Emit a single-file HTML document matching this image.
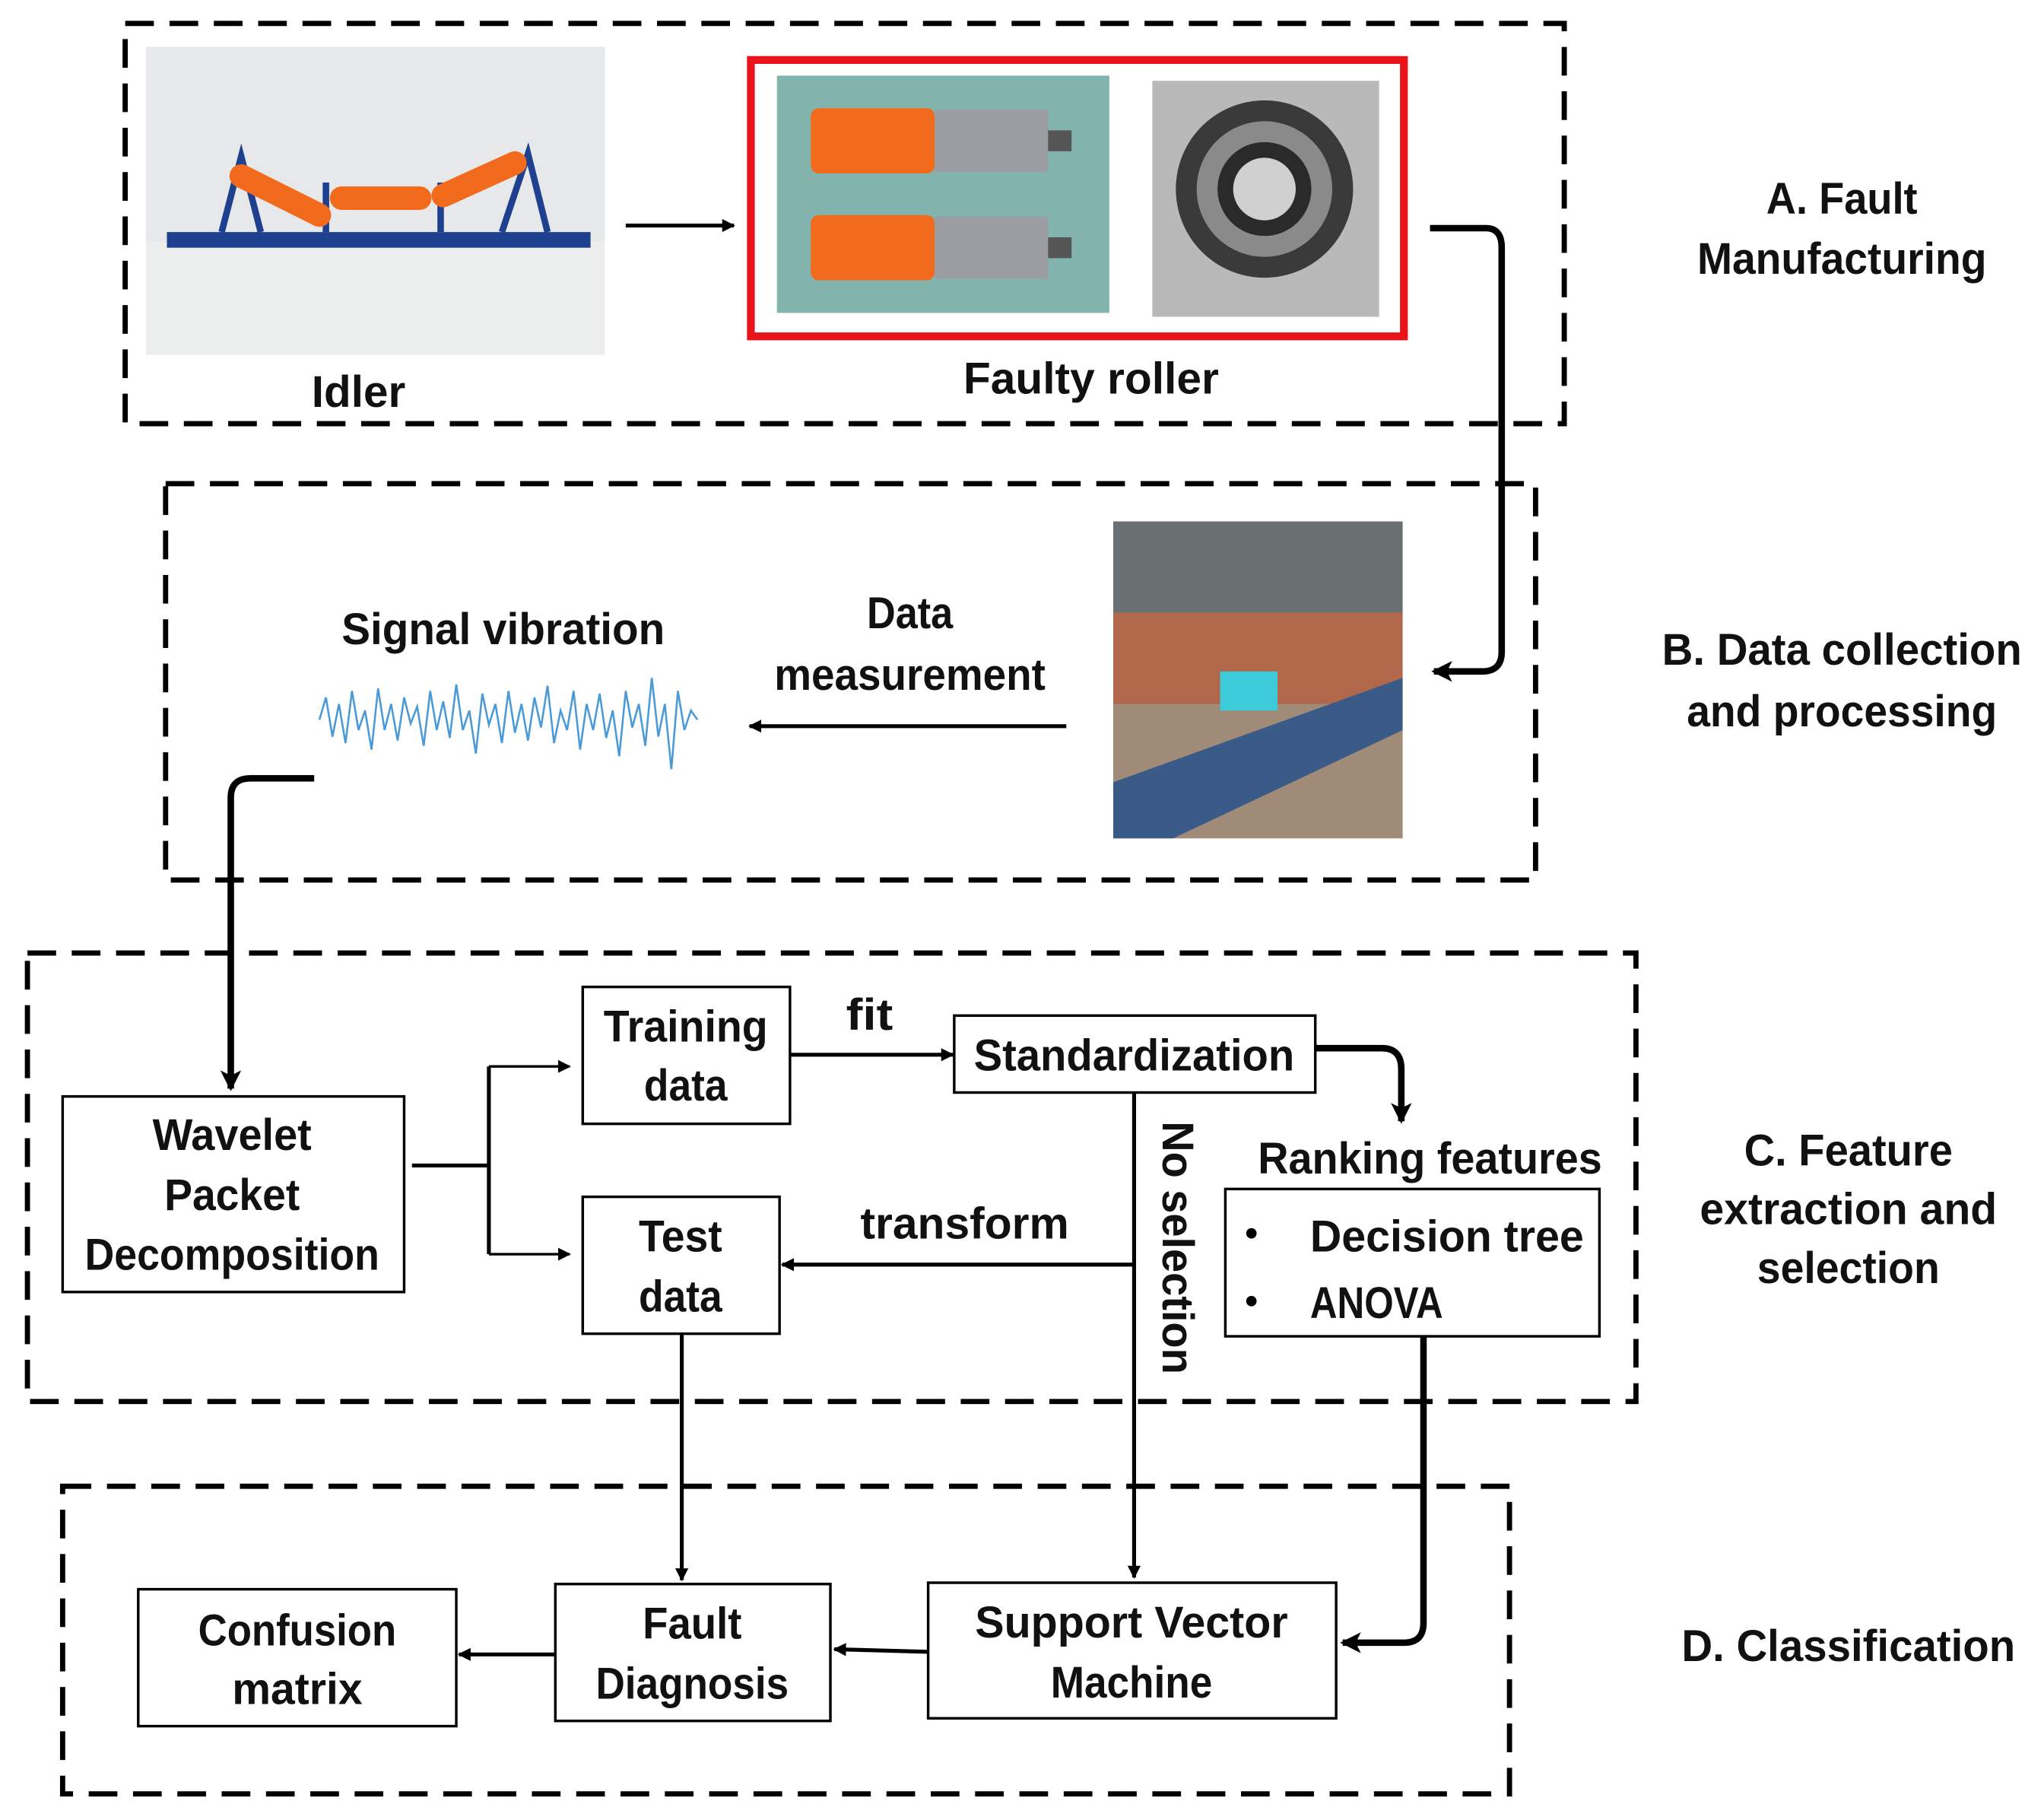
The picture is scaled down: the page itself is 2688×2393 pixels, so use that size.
<!DOCTYPE html>
<html><head><meta charset="utf-8"><style>
html,body{margin:0;padding:0;background:#fff}
svg{display:block}
text{font-family:"Liberation Sans",sans-serif;font-weight:bold;font-size:34px;fill:#111;text-anchor:middle}
</style></head><body>
<svg width="2688" height="2393" viewBox="0 0 1568 1396" xmlns="http://www.w3.org/2000/svg">
<defs>
<marker id="ar" markerWidth="10" markerHeight="10" refX="9" refY="5" orient="auto" markerUnits="userSpaceOnUse"><path d="M0,0 L10,5 L0,10 Z" fill="#000"/></marker>
<marker id="ar2" markerWidth="16" markerHeight="16" refX="14" refY="8" orient="auto" markerUnits="userSpaceOnUse"><path d="M0,0 L16,8 L0,16 L4,8 Z" fill="#000"/></marker>
</defs>
<g fill="none" stroke="#000" stroke-width="4" stroke-dasharray="22 12">
<rect x="96" y="18" width="1104" height="307"/>
<rect x="127" y="371" width="1051" height="304"/>
<rect x="21" y="731" width="1234" height="344"/>
<rect x="48" y="1140" width="1110" height="236"/>
</g>
<!-- idler photo -->
<rect x="112" y="36" width="352" height="236" fill="#e6e8e9"/>
<rect x="112" y="185" width="352" height="87" fill="#eceeee"/>
<rect x="128" y="178" width="325" height="12" fill="#1f3f8f"/>
<g stroke="#1f3f8f" stroke-width="5" fill="none">
<path d="M170,178 L185,120 L200,178"/><path d="M250,178 L250,140"/><path d="M338,178 L338,140"/><path d="M385,178 L405,118 L420,178"/>
</g>
<g stroke="#f26a1b" stroke-width="18" stroke-linecap="round">
<line x1="185" y1="135" x2="245" y2="165"/><line x1="262" y1="152" x2="322" y2="152"/><line x1="340" y1="150" x2="395" y2="125"/>
</g>
<line x1="480" y1="173" x2="563" y2="173" stroke="#000" stroke-width="3" marker-end="url(#ar)"/>
<rect x="576" y="46" width="501" height="212" fill="none" stroke="#e8141a" stroke-width="6"/>
<rect x="596" y="58" width="255" height="182" fill="#82b4ad"/>
<rect x="622" y="83" width="95" height="50" rx="6" fill="#f26a1b"/><rect x="717" y="84" width="87" height="48" fill="#9a9ea2"/><rect x="804" y="100" width="18" height="16" fill="#555"/>
<rect x="622" y="165" width="95" height="50" rx="6" fill="#f26a1b"/><rect x="717" y="166" width="87" height="48" fill="#9a9ea2"/><rect x="804" y="182" width="18" height="16" fill="#555"/>
<rect x="884" y="62" width="174" height="181" fill="#b9b9b9"/>
<circle cx="970" cy="145" r="68" fill="#3a3a3a"/><circle cx="970" cy="145" r="52" fill="#8a8a8a"/><circle cx="970" cy="145" r="36" fill="#2a2a2a"/><circle cx="970" cy="145" r="24" fill="#d0d0d0"/>
<text x="275" y="312" textLength="72" lengthAdjust="spacingAndGlyphs">Idler</text>
<text x="837" y="302" textLength="196" lengthAdjust="spacingAndGlyphs">Faulty roller</text>
<path d="M1097,175 H1140 Q1152,175 1152,190 V500 Q1152,515 1137,515 H1100" fill="none" stroke="#000" stroke-width="5" marker-end="url(#ar2)"/>
<text x="1413" y="164" textLength="116" lengthAdjust="spacingAndGlyphs">A. Fault</text>
<text x="1413" y="210" textLength="222" lengthAdjust="spacingAndGlyphs">Manufacturing</text>
<!-- sensor photo -->
<rect x="854" y="400" width="222" height="243" fill="#8a7a70"/>
<rect x="854" y="400" width="222" height="70" fill="#6a6f72"/>
<rect x="854" y="470" width="222" height="70" fill="#b0674a"/>
<rect x="854" y="540" width="222" height="103" fill="#a08a78"/>
<path d="M854,600 L1076,520 L1076,560 L900,643 L854,643 Z" fill="#3a5a88"/>
<rect x="936" y="515" width="44" height="30" fill="#3ccbd8"/>
<text x="698" y="482" textLength="66" lengthAdjust="spacingAndGlyphs">Data</text>
<text x="698" y="529" textLength="208" lengthAdjust="spacingAndGlyphs">measurement</text>
<line x1="818" y1="557" x2="575" y2="557" stroke="#000" stroke-width="3" marker-end="url(#ar)"/>
<text x="386" y="494" textLength="248" lengthAdjust="spacingAndGlyphs">Signal vibration</text>
<polyline fill="none" stroke="#4a9ad8" stroke-width="1.5" points="245,552 250,535 255,565 260,540 265,570 270,530 275,560 280,545 285,575 290,528 295,560 300,540 305,568 310,535 315,555 320,542 325,572 330,530 335,560 340,538 345,566 350,525 355,560 360,545 365,578 370,532 375,556 380,540 385,570 390,530 395,562 400,540 405,568 410,535 415,558 420,526 425,570 430,545 435,560 440,530 445,575 450,540 455,560 460,532 465,566 470,545 475,580 480,530 485,558 490,540 495,572 500,520 505,565 510,540 515,590 520,530 525,560 530,545 535,552"/>
<path d="M241,597 H192 Q177,597 177,612 V835" fill="none" stroke="#000" stroke-width="5" marker-end="url(#ar2)"/>
<text x="1413" y="510" textLength="276" lengthAdjust="spacingAndGlyphs">B. Data collection</text>
<text x="1413" y="557" textLength="238" lengthAdjust="spacingAndGlyphs">and processing</text>
<!-- C boxes -->
<g fill="#fff" stroke="#000" stroke-width="2">
<rect x="48" y="841" width="262" height="150"/>
<rect x="447" y="757" width="159" height="105"/>
<rect x="732" y="779" width="277" height="59"/>
<rect x="940" y="912" width="287" height="113"/>
<rect x="447" y="918" width="151" height="105"/>
<rect x="106" y="1219" width="244" height="105"/>
<rect x="426" y="1215" width="211" height="105"/>
<rect x="712" y="1214" width="313" height="104"/>
</g>
<text x="178" y="882" textLength="122" lengthAdjust="spacingAndGlyphs">Wavelet</text>
<text x="178" y="928" textLength="104" lengthAdjust="spacingAndGlyphs">Packet</text>
<text x="178" y="974" textLength="226" lengthAdjust="spacingAndGlyphs">Decomposition</text>
<path d="M316,894 H375 M375,818 V962" fill="none" stroke="#000" stroke-width="3"/>
<line x1="375" y1="818" x2="437" y2="818" stroke="#000" stroke-width="2" marker-end="url(#ar)"/>
<line x1="375" y1="962" x2="437" y2="962" stroke="#000" stroke-width="2" marker-end="url(#ar)"/>
<text x="526" y="799" textLength="126" lengthAdjust="spacingAndGlyphs">Training</text>
<text x="526" y="844" textLength="64" lengthAdjust="spacingAndGlyphs">data</text>
<text x="667" y="790" textLength="36" lengthAdjust="spacingAndGlyphs">fit</text>
<line x1="606" y1="809" x2="731" y2="809" stroke="#000" stroke-width="3" marker-end="url(#ar)"/>
<text x="870" y="821" textLength="246" lengthAdjust="spacingAndGlyphs">Standardization</text>
<path d="M1009,804 H1060 Q1075,804 1075,820 V860" fill="none" stroke="#000" stroke-width="5" marker-end="url(#ar2)"/>
<text x="1097" y="900" textLength="264" lengthAdjust="spacingAndGlyphs">Ranking features</text>
<circle cx="960" cy="946" r="4" fill="#000"/><circle cx="960" cy="998" r="4" fill="#000"/>
<text x="1110" y="960" textLength="210" lengthAdjust="spacingAndGlyphs">Decision tree</text>
<text x="1056" y="1011" textLength="102" lengthAdjust="spacingAndGlyphs">ANOVA</text>
<text x="522" y="960" textLength="64" lengthAdjust="spacingAndGlyphs">Test</text>
<text x="522" y="1006" textLength="64" lengthAdjust="spacingAndGlyphs">data</text>
<text x="740" y="950" textLength="160" lengthAdjust="spacingAndGlyphs">transform</text>
<line x1="870" y1="838" x2="870" y2="1210" stroke="#000" stroke-width="3" marker-end="url(#ar)"/>
<line x1="870" y1="970" x2="600" y2="970" stroke="#000" stroke-width="3" marker-end="url(#ar)"/>
<text transform="translate(892,957) rotate(90)" textLength="194" lengthAdjust="spacingAndGlyphs">No selection</text>
<path d="M1092,1025 V1245 Q1092,1260 1077,1260 H1030" fill="none" stroke="#000" stroke-width="5" marker-end="url(#ar2)"/>
<line x1="523" y1="1023" x2="523" y2="1212" stroke="#000" stroke-width="3" marker-end="url(#ar)"/>
<text x="1418" y="894" textLength="160" lengthAdjust="spacingAndGlyphs">C. Feature</text>
<text x="1418" y="939" textLength="228" lengthAdjust="spacingAndGlyphs">extraction and</text>
<text x="1418" y="984" textLength="140" lengthAdjust="spacingAndGlyphs">selection</text>
<text x="228" y="1262" textLength="152" lengthAdjust="spacingAndGlyphs">Confusion</text>
<text x="228" y="1307" textLength="100" lengthAdjust="spacingAndGlyphs">matrix</text>
<text x="531" y="1257" textLength="76" lengthAdjust="spacingAndGlyphs">Fault</text>
<text x="531" y="1303" textLength="148" lengthAdjust="spacingAndGlyphs">Diagnosis</text>
<text x="868" y="1256" textLength="240" lengthAdjust="spacingAndGlyphs">Support Vector</text>
<text x="868" y="1302" textLength="124" lengthAdjust="spacingAndGlyphs">Machine</text>
<line x1="712" y1="1267" x2="640" y2="1265" stroke="#000" stroke-width="3" marker-end="url(#ar)"/>
<line x1="426" y1="1269" x2="352" y2="1269" stroke="#000" stroke-width="3" marker-end="url(#ar)"/>
<text x="1418" y="1274" textLength="256" lengthAdjust="spacingAndGlyphs">D. Classification</text>
</svg>
</body></html>
